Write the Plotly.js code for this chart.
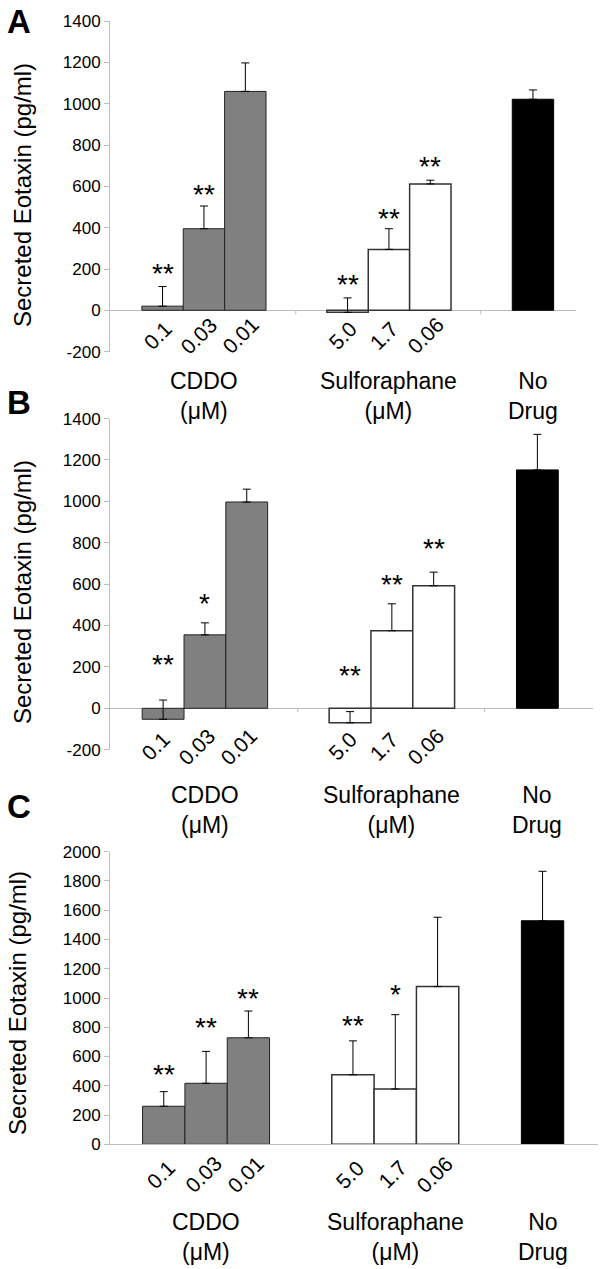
<!DOCTYPE html>
<html>
<head>
<meta charset="utf-8">
<script src="https://cdn.plot.ly/plotly-3.0.1.min.js"></script>
<style>html,body{margin:0;padding:0;background:#fff;}#chart{width:600px;height:1269px;}</style>
</head>
<body>
<div id="chart"></div>
<script>
// ---------------- DATA ----------------
const panelLetters = ['A', 'B', 'C'];
const cddoDoses = ['0.1', '0.03', '0.01'];
const sulfoDoses = ['5.0', '1.7', '0.06'];
const groupLabels = ['CDDO<br>(\u03bcM)', 'Sulforaphane<br>(\u03bcM)', 'No<br>Drug'];
const yTitle = 'Secreted Eotaxin (pg/ml)';

// Panel A
const cddoA = [20, 395, 1060];
const cddoErrA = [95, 110, 138];
const sulfoA = [-10, 295, 612];
const sulfoErrA = [70, 100, 18];
const noDrugA = [1022];
const noDrugErrA = [45];
const cddoSigA = ['**', '**', ''];
const sulfoSigA = ['**', '**', '**'];

// Panel B
const cddoB = [-53, 355, 997];
const cddoErrB = [93, 58, 62];
const sulfoB = [-70, 375, 592];
const sulfoErrB = [54, 130, 66];
const noDrugB = [1152];
const noDrugErrB = [172];
const cddoSigB = ['**', '*', ''];
const sulfoSigB = ['**', '**', '**'];

// Panel C
const cddoC = [260, 417, 728];
const cddoErrC = [100, 218, 183];
const sulfoC = [475, 378, 1078];
const sulfoErrC = [232, 508, 474];
const noDrugC = [1528];
const noDrugErrC = [338];
const cddoSigC = ['**', '**', '**'];
const sulfoSigC = ['**', '*', ''];

// ---------------- LAYOUT / STYLE ----------------
const W = 600, H = 1269;
const FONT = '"Liberation Sans", Arial, Helvetica, sans-serif';
const axisGray = '#bdbdbd';
const groupCenters = [2.27, 6.74, 10.22];
const groupBounds = [4.49, 8.96];

const panels = [
  {letter: panelLetters[0], cddo: cddoA, cddoErr: cddoErrA, sulfo: sulfoA, sulfoErr: sulfoErrA, nd: noDrugA, ndErr: noDrugErrA, cSig: cddoSigA, sSig: sulfoSigA,
   x0: 110, x1: 576, xr: [0, 11.26], yTop: 21.2, yBot: 351.6, yr: [-200, 1400],
   sigOff: {c: [19, 18, 0], s: [19, 16, 20]}, doseDy: 25, doseDx: -5, groupY: 396, titleX: 22, titleY: 195, letterY: 21},
  {letter: panelLetters[1], cddo: cddoB, cddoErr: cddoErrB, sulfo: sulfoB, sulfoErr: sulfoErrB, nd: noDrugB, ndErr: noDrugErrB, cSig: cddoSigB, sSig: sulfoSigB,
   x0: 110, x1: 593, xr: [0, 11.55], yTop: 418.6, yBot: 749.7, yr: [-200, 1400],
   sigOff: {c: [42, 25, 0], s: [42, 25, 30]}, doseDy: 38, doseDx: -8, groupY: 810, titleX: 22, titleY: 592, letterY: 402},
  {letter: panelLetters[2], cddo: cddoC, cddoErr: cddoErrC, sulfo: sulfoC, sulfoErr: sulfoErrC, nd: noDrugC, ndErr: noDrugErrC, cSig: cddoSigC, sSig: sulfoSigC,
   x0: 110, x1: 598, xr: [0, 11.53], yTop: 851.7, yBot: 1144.3, yr: [0, 2000],
   sigOff: {c: [23, 30, 19], s: [21, 26, 0]}, doseDy: 30, doseDx: -3, groupY: 1237, titleX: 17, titleY: 1003, letterY: 806}
];

const traces = [];
const annotations = [];
const shapes = [];
const layout = {
  width: W, height: H,
  margin: {l: 0, r: 0, t: 0, b: 0},
  paper_bgcolor: '#fff', plot_bgcolor: 'rgba(0,0,0,0)',
  showlegend: false,
  barmode: 'overlay',
  font: {family: FONT, color: '#000'},
  annotations: annotations,
  shapes: shapes
};

function errObj(arr) {
  return {type: 'data', array: arr, arrayminus: arr.map(() => 0), symmetric: false,
          color: '#000', thickness: 1, width: 4};
}

panels.forEach((p, k) => {
  const n = k + 1;
  const xa = 'x' + (n === 1 ? '' : n);
  const ya = 'y' + (n === 1 ? '' : n);
  const xKey = 'xaxis' + (n === 1 ? '' : n);
  const yKey = 'yaxis' + (n === 1 ? '' : n);
  const isC = p.yr[0] === 0;

  const tv = [];
  for (let v = p.yr[0]; v <= p.yr[1]; v += 200) tv.push(v);

  layout[xKey] = {
    domain: [p.x0 / W, p.x1 / W], range: p.xr, anchor: ya,
    showgrid: false, zeroline: false, showticklabels: false, ticks: '',
    showline: isC, linecolor: axisGray, linewidth: 1, fixedrange: true
  };
  layout[yKey] = {
    domain: [1 - p.yBot / H, 1 - p.yTop / H], range: p.yr, anchor: xa,
    tickmode: 'array', tickvals: tv, ticktext: tv.map(v => String(v)),
    ticks: 'outside', ticklen: 5, tickcolor: axisGray, tickwidth: 1,
    showline: true, linecolor: axisGray, linewidth: 1, showgrid: false,
    zeroline: !isC, zerolinecolor: axisGray, zerolinewidth: 1,
    tickfont: {family: FONT, size: 17, color: '#000'}, fixedrange: true
  };

  const cx = cddoDoses.map((d, i) => groupCenters[0] + i - 1);
  const sx = sulfoDoses.map((d, i) => groupCenters[1] + i - 1);
  const nx = [groupCenters[2]];

  traces.push({type: 'bar', x: cx, y: p.cddo, width: 1, xaxis: xa, yaxis: ya,
    marker: {color: '#808080', line: {color: '#222', width: 1}}, error_y: errObj(p.cddoErr), hoverinfo: 'y'});
  traces.push({type: 'bar', x: sx, y: p.sulfo, width: 1, xaxis: xa, yaxis: ya,
    marker: {color: '#ffffff', line: {color: '#333', width: 1.5}}, error_y: errObj(p.sulfoErr), hoverinfo: 'y'});
  traces.push({type: 'bar', x: nx, y: p.nd, width: 1, xaxis: xa, yaxis: ya,
    marker: {color: '#000000', line: {color: '#000', width: 1}}, error_y: errObj(p.ndErr), hoverinfo: 'y'});

  // significance stars
  const addSig = (xs, vals, errs, sigs, offs) => {
    sigs.forEach((s, i) => {
      if (!s) return;
      annotations.push({xref: xa, yref: ya, x: xs[i], y: vals[i] + errs[i], text: s, showarrow: false,
        xanchor: 'center', yanchor: 'middle', yshift: offs[i] - 6,
        font: {family: FONT, size: 28, color: '#000'}});
    });
  };
  addSig(cx, p.cddo, p.cddoErr, p.cSig, p.sigOff.c);
  addSig(sx, p.sulfo, p.sulfoErr, p.sSig, p.sigOff.s);

  // rotated dose labels
  const addDose = (xs, labels) => {
    labels.forEach((t, i) => {
      annotations.push({xref: xa, yref: ya, x: xs[i], y: 0, text: t, showarrow: false, textangle: -45,
        xanchor: 'center', yanchor: 'middle', xshift: p.doseDx, yshift: -p.doseDy,
        font: {family: FONT, size: 21, color: '#000'}});
    });
  };
  addDose(cx, cddoDoses);
  addDose(sx, sulfoDoses);

  // group labels
  groupLabels.forEach((g, i) => {
    annotations.push({xref: xa, yref: 'paper', x: groupCenters[i], y: 1 - p.groupY / H, text: g, showarrow: false,
      xanchor: 'center', yanchor: 'middle', align: 'center',
      font: {family: FONT, size: 23, color: '#000'}});
  });

  // y title
  annotations.push({xref: 'paper', yref: 'paper', x: p.titleX / W, y: 1 - p.titleY / H, text: yTitle,
    showarrow: false, textangle: -90, xanchor: 'center', yanchor: 'middle',
    font: {family: FONT, size: 24, color: '#000'}});

  // panel letter
  annotations.push({xref: 'paper', yref: 'paper', x: 19 / W, y: 1 - p.letterY / H, text: '<b>' + p.letter + '</b>',
    showarrow: false, xanchor: 'center', yanchor: 'middle',
    font: {family: FONT, size: 33, color: '#000'}});

  // category boundary ticks on the zero line
  groupBounds.forEach(b => {
    shapes.push({type: 'line', xref: xa, yref: ya, x0: b, x1: b, ysizemode: 'pixel', yanchor: 0, y0: 0, y1: -4,
      line: {color: axisGray, width: 1}});
  });
});

Plotly.newPlot('chart', traces, layout, {staticPlot: true, displayModeBar: false});
</script>
</body>
</html>
